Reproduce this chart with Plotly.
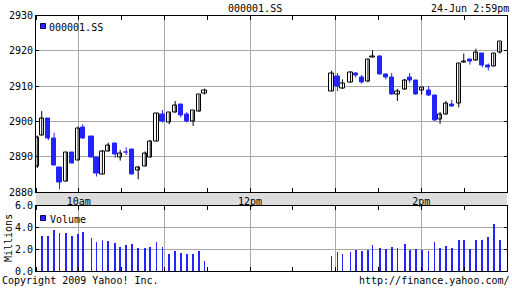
import plotly.graph_objects as go

# ---- data (times = minutes after 9:30 local) ----
times = [0.9, 4.0, 8.6, 12.7, 16.5, 21.2, 25.4, 29.5, 32.8, 38.8, 42.4, 46.5, 50.6, 55.5, 59.0,
         63.2, 67.4, 71.6, 76.5, 80.0, 84.4, 88.6, 93.4, 97.5, 101.4, 105.6, 110.1, 114.2, 118.1,
         207.1, 211.2, 214.7, 220.4, 224.0, 228.2, 232.6, 235.8, 240.9, 245.1, 249.2, 253.2, 258.3,
         261.8, 266.0, 270.2, 275.1, 279.3, 283.1, 287.2, 291.3, 296.2, 299.7, 304.0, 308.2, 312.7,
         316.9, 320.7, 325.0]

opens = [2887.1, 2896.0, 2900.8, 2895.2, 2887.0, 2883.0, 2891.1, 2889.0, 2898.4, 2895.6, 2889.8,
         2885.0, 2891.5, 2893.6, 2889.8, 2891.3, 2892.1, 2886.2, 2887.3, 2889.8, 2894.4, 2901.9,
         2899.6, 2902.5, 2904.9, 2901.9, 2900.0, 2902.7, 2907.8,
         2908.6, 2912.8, 2909.2, 2911.0, 2913.6, 2912.4, 2911.4, 2918.1, 2918.5, 2913.2, 2912.5,
         2907.6, 2908.9, 2912.4, 2911.7, 2908.8, 2908.8, 2907.4, 2900.6, 2902.0, 2904.9, 2905.1,
         2916.6, 2917.5, 2917.2, 2919.3, 2915.8, 2915.6, 2919.5]
highs = [2896.0, 2902.9, 2900.9, 2896.8, 2887.0, 2891.2, 2891.1, 2898.5, 2899.2, 2895.6, 2889.8,
         2891.9, 2894.0, 2893.6, 2891.9, 2892.7, 2892.1, 2887.4, 2891.5, 2894.7, 2902.4, 2903.2,
         2902.5, 2905.8, 2904.9, 2902.6, 2903.0, 2907.6, 2909.3,
         2914.4, 2913.7, 2911.9, 2914.2, 2913.9, 2913.2, 2917.6, 2920.1, 2918.8, 2913.7, 2913.7,
         2909.2, 2912.0, 2913.7, 2911.7, 2909.6, 2910.0, 2907.4, 2902.7, 2905.8, 2906.1, 2916.4,
         2919.2, 2917.7, 2920.6, 2919.3, 2916.4, 2919.3, 2922.5]
lows = [2886.8, 2896.0, 2894.7, 2887.5, 2880.8, 2883.0, 2888.1, 2889.0, 2895.1, 2889.8, 2884.4,
        2885.0, 2891.5, 2889.7, 2888.9, 2890.5, 2885.0, 2883.6, 2887.3, 2889.8, 2894.4, 2899.7,
        2899.2, 2902.5, 2901.1, 2899.7, 2898.7, 2902.7, 2907.6,
        2908.6, 2908.6, 2909.2, 2911.0, 2912.4, 2910.7, 2911.1, 2918.1, 2913.4, 2911.9, 2907.5,
        2905.8, 2908.9, 2910.9, 2907.5, 2907.6, 2907.2, 2900.2, 2899.3, 2902.0, 2904.2, 2904.0,
        2916.6, 2916.1, 2917.2, 2915.3, 2914.4, 2915.6, 2919.2]
closes = [2895.4, 2900.8, 2895.1, 2887.5, 2882.7, 2891.2, 2888.1, 2898.0, 2895.1, 2889.8, 2885.2,
          2891.5, 2893.2, 2890.7, 2891.0, 2891.1, 2885.0, 2887.0, 2891.0, 2894.2, 2902.1, 2900.0,
          2902.5, 2904.5, 2901.7, 2900.1, 2903.0, 2907.6, 2908.8,
          2913.6, 2909.9, 2910.7, 2913.8, 2913.1, 2911.1, 2917.6, 2918.5, 2913.4, 2912.4, 2907.5,
          2908.6, 2911.7, 2911.5, 2907.5, 2909.6, 2907.2, 2900.2, 2902.0, 2905.2, 2904.2, 2916.4,
          2917.1, 2917.0, 2919.5, 2915.8, 2915.3, 2919.3, 2922.5]
volume_m = [None, 3.23, 3.23, 3.79, 3.54, 3.51, 3.23, 3.45, 3.60, 3.05, 2.71, 2.86, 2.77, 2.62,
            2.25, 2.43, 2.52, 2.12, 2.12, 2.22, 2.68, 2.22, 1.60, 1.85, 1.69, 1.57, 1.57, 1.88, 0.95,
            1.38, 1.75, 1.57, 1.75, 1.94, 1.85, 1.94, 2.40, 2.12, 2.03, 2.22, 2.12, 2.49, 1.94,
            2.03, 1.94, 1.85, 2.68, 2.12, 2.31, 2.12, 2.86, 2.86, 2.03, 2.86, 2.86, 3.14, 4.34, 2.86]

hour_ticks = [30, 90, 150, 210, 270]
hour_labels = ["10am", "", "12pm", "", "2pm"]
price_ticks = [2880, 2890, 2900, 2910, 2920, 2930]
vol_ticks = [0, 2, 4, 6]

BLUE = "#2424ff"
GRID = "#a8a8a8"
FONT = dict(family="DejaVu Sans Mono", size=10, color="black")

W, H = 512, 288
def px(x):
    return x / W
def py(y):
    return 1 - y / H

fig = go.Figure()

# wicks
for up, color in [(True, "black"), (False, BLUE)]:
    wx, wy = [], []
    for t, o, h, l, c in zip(times, opens, highs, lows, closes):
        if (c >= o) == up:
            wx += [t, t, None]
            wy += [l, h, None]
    fig.add_trace(go.Scatter(x=wx, y=wy, mode="lines", line=dict(color=color, width=1),
                             hoverinfo="skip", showlegend=False, xaxis="x", yaxis="y"))

# bodies
for up, fill, edge in [(True, "white", "black"), (False, BLUE, BLUE)]:
    bx, bb, bh = [], [], []
    for t, o, c in zip(times, opens, closes):
        if (c >= o) == up:
            bx.append(t)
            bb.append(min(o, c))
            bh.append(max(abs(c - o), 0.12))
    fig.add_trace(go.Bar(x=bx, y=bh, base=bb, width=3.0,
                         marker=dict(color=fill, line=dict(color=edge, width=1)),
                         showlegend=False, xaxis="x", yaxis="y"))

# volume
fig.add_trace(go.Bar(x=times, y=volume_m, width=0.5, marker=dict(color=BLUE, line=dict(width=0)),
                     showlegend=False, xaxis="x2", yaxis="y2"))

x_dom = [px(36), px(507)]
common_x = dict(range=[0, 330], tickvals=hour_ticks, showgrid=True, gridcolor=GRID, gridwidth=1,
                showline=True, linecolor="black", linewidth=1, mirror="ticks", ticks="",
                minor=dict(tick0=0, dtick=30, ticks="inside", ticklen=4, tickcolor="black", showgrid=False),
                zeroline=False, fixedrange=True)

fig.update_layout(
    width=W, height=H, margin=dict(l=0, r=0, t=0, b=0),
    paper_bgcolor="white", plot_bgcolor="white", template="none",
    barmode="overlay", bargap=0, font=FONT,
    xaxis=dict(domain=x_dom, anchor="y", ticktext=hour_labels, showticklabels=True,
               tickfont=FONT, **common_x),
    yaxis=dict(domain=[py(192), py(15.5)], range=[2880, 2930], tickvals=price_ticks,
               showgrid=True, gridcolor=GRID, showline=True, linecolor="black", mirror="ticks",
               ticks="inside", ticklen=3, tickcolor="black", tickfont=FONT, zeroline=False),
    xaxis2=dict(domain=x_dom, anchor="y2", showticklabels=False, **common_x),
    yaxis2=dict(domain=[py(271), py(205.5)], range=[0, 6], tickvals=vol_ticks, tickformat=".1f",
                showgrid=True, gridcolor=GRID, showline=True, linecolor="black", mirror="ticks",
                ticks="inside", ticklen=3, tickcolor="black", tickfont=FONT, zeroline=False),
    shapes=[
        dict(type="rect", xref="paper", yref="paper", x0=px(36), x1=px(507), y0=py(205.5), y1=py(192),
             fillcolor="#dcdcdc", line=dict(width=0), layer="below"),
        dict(type="rect", xref="paper", yref="paper", x0=px(40.5), x1=px(45.5), y0=py(28.5), y1=py(23.5),
             fillcolor=BLUE, line=dict(color="#000066", width=1)),
        dict(type="rect", xref="paper", yref="paper", x0=px(40.5), x1=px(45.5), y0=py(220.5), y1=py(215.5),
             fillcolor=BLUE, line=dict(color="#000066", width=1)),
    ],
    annotations=[
        dict(text="000001.SS", xref="paper", yref="paper", x=px(255), y=py(8), showarrow=False,
             xanchor="center", yanchor="middle", font=FONT),
        dict(text="24-Jun 2:59pm", xref="paper", yref="paper", x=px(511), y=py(8), showarrow=False,
             xanchor="right", yanchor="middle", font=FONT),
        dict(text="000001.SS", xref="paper", yref="paper", x=px(47), y=py(27), showarrow=False,
             xanchor="left", yanchor="middle", font=FONT),
        dict(text="Volume", xref="paper", yref="paper", x=px(48), y=py(219), showarrow=False,
             xanchor="left", yanchor="middle", font=FONT),
        dict(text="Millions", xref="paper", yref="paper", x=px(8), y=py(238), showarrow=False,
             textangle=-90, xanchor="center", yanchor="middle", font=FONT),
        dict(text="Copyright 2009 Yahoo! Inc.", xref="paper", yref="paper", x=px(0), y=py(280),
             showarrow=False, xanchor="left", yanchor="middle", font=FONT),
        dict(text="http://finance.yahoo.com/", xref="paper", yref="paper", x=px(512), y=py(280),
             showarrow=False, xanchor="right", yanchor="middle", font=FONT),
    ],
)

fig.write_html("out.html")
